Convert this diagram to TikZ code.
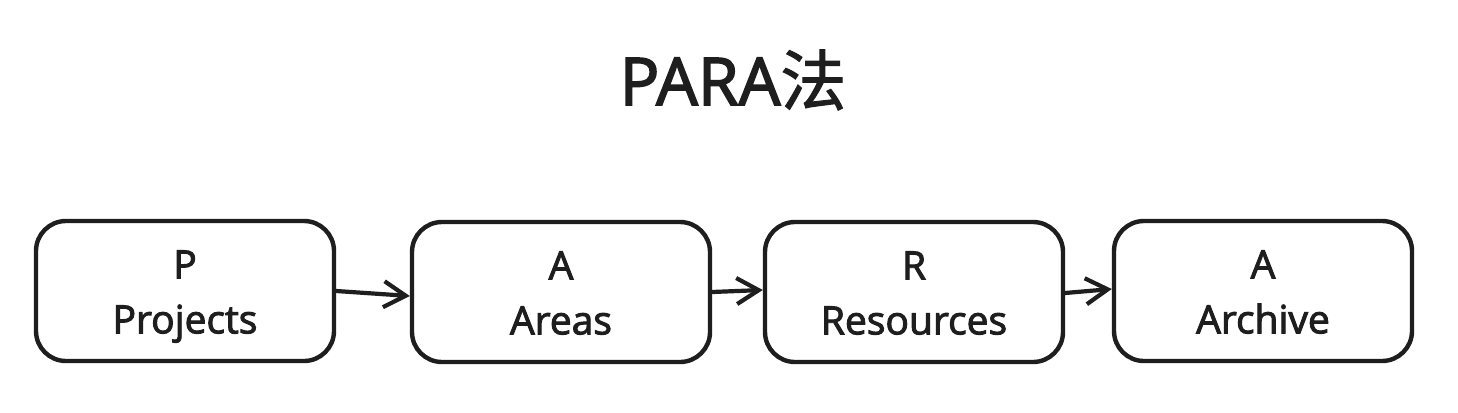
\documentclass[tikz,border=0pt]{standalone}
\usepackage{fontspec}
\setmainfont{Open Sans}
\newfontfamily\heavy{Open Sans}[FakeBold=2.5]
\newfontfamily\cjk{Noto Sans CJK SC}[FakeBold=1.5]
\usetikzlibrary{arrows.meta}
\definecolor{ink}{HTML}{1E1E1E}
\newcommand\cardline[1]{\vphantom{Pj}#1}
\newcommand\cardtop[1]{\rule{0pt}{1.0em}#1}
\begin{document}
\begin{tikzpicture}[x=1pt,y=-1pt,
  card/.style={draw=ink, line width=4.4pt, rounded corners=30pt, minimum width=298pt, minimum height=140pt,
    align=center, text=ink, font=\heavy\fontsize{39}{55}\selectfont, inner sep=0pt},
  link/.style={draw=ink, line width=4.2pt, -{Straight Barb[length=22pt,width=26pt,line width=4.2pt]}, line cap=round}]
\useasboundingbox (0,0) rectangle (1458,412);
\fill[white] (0,0) rectangle (1458,412);
\node[text=ink, font=\heavy\fontsize{66}{68}\selectfont] (title) at (733,80) {PARA{\cjk 法}};
\node[card] (p) at (185,291) {\cardtop{P}\\\cardline{Projects}};
\node[card] (a1) at (561,292) {\cardtop{A}\\\cardline{Areas}};
\node[card] (r) at (914,292) {\cardtop{R}\\\cardline{Resources}};
\node[card] (a2) at (1263,291) {\cardtop{A}\\\cardline{Archive}};
\draw[link] (p.east |- 0,291) -- (a1.west |- 0,296);
\draw[link] (a1.east |- 0,292) -- (r.west |- 0,290);
\draw[link] (r.east |- 0,293) -- (a2.west |- 0,289);
\end{tikzpicture}
\end{document}
